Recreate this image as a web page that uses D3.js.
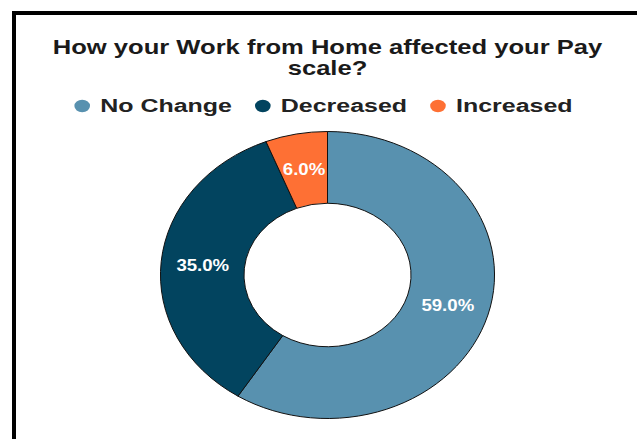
<!DOCTYPE html>
<html>
<head>
<meta charset="utf-8">
<script src="https://cdn.jsdelivr.net/npm/d3@7"></script>
<style>
  html, body { margin: 0; padding: 0; background: #ffffff; }
  svg { display: block; }
  text { font-family: "Liberation Sans", Arial, Helvetica, sans-serif; font-weight: bold; }
</style>
</head>
<body>
<svg id="chart" width="637" height="439"></svg>
<script>
// Survey answers and their shares (percent)
const categories = ["No Change", "Decreased", "Increased"];
const values = [59.0, 35.0, 6.0];
const colors = ["#5891af", "#02445f", "#fe7034"];
const titleLines = ["How your Work from Home affected your Pay", "scale?"];

const W = 637, H = 439;
const svg = d3.select("#chart");

// white card with a heavy black frame
svg.append("rect")
  .attr("x", 14).attr("y", 13)
  .attr("width", 640).attr("height", 440)
  .attr("fill", "#ffffff")
  .attr("stroke", "#000000")
  .attr("stroke-width", 4);

// title, two centred lines
const titleG = svg.append("g");
titleLines.forEach((line, i) => {
  titleG.append("g")
    .attr("transform", `translate(327.5,${53.5 + i * 21}) scale(1.306,1)`)
    .append("text")
    .attr("text-anchor", "middle")
    .attr("font-size", 19.6)
    .attr("fill", "#1a1a1a")
    .text(line);
});

// legend: dot + label per category, centred as a row
const legendScaleX = 1.35, legendFont = 18.5;
const dotRx = 7.8, dotRy = 6.2, dotGap = 10.2, itemGap = 23;
const legend = svg.append("g");
const items = categories.map((c, i) => {
  const g = legend.append("g");
  const t = g.append("text")
    .attr("font-size", legendFont)
    .attr("fill", "#222222")
    .text(c);
  const w = t.node().getComputedTextLength() * legendScaleX;
  return { g, t, w, i };
});
const total = d3.sum(items, d => 2 * dotRx + dotGap + d.w) + itemGap * (items.length - 1);
let xPos = 323.5 - total / 2;
items.forEach(d => {
  d.g.append("ellipse")
    .attr("cx", xPos + dotRx).attr("cy", 106)
    .attr("rx", dotRx).attr("ry", dotRy)
    .attr("fill", colors[d.i]);
  const tx = xPos + 2 * dotRx + dotGap;
  d.t.attr("transform", `translate(${tx},112.3) scale(${legendScaleX},1)`);
  xPos = tx + d.w + itemGap;
});

// donut
const outerR = 143.5, innerR = outerR * 0.5;
const pie = d3.pie().sort(null).value(d => d.value);
const arc = d3.arc().innerRadius(innerR).outerRadius(outerR);
const data = categories.map((c, i) => ({ name: c, value: values[i], color: colors[i] }));
const arcs = pie(data);

const donut = svg.append("g")
  .attr("transform", "translate(327.5,275) scale(1.164,1)");

donut.selectAll("path.slice")
  .data(arcs)
  .join("path")
  .attr("class", "slice")
  .attr("d", arc)
  .attr("fill", d => d.data.color)
  .attr("stroke", "#111111")
  .attr("stroke-width", 1)
  .attr("vector-effect", "non-scaling-stroke");

donut.selectAll("text.val")
  .data(arcs)
  .join("text")
  .attr("class", "val")
  .attr("transform", d => { const [x, y] = arc.centroid(d); return `translate(${x},${y})`; })
  .attr("text-anchor", "middle")
  .attr("dy", "0.36em")
  .attr("font-size", 16)
  .attr("fill", "#ffffff")
  .text(d => d.data.value.toFixed(1) + "%");
</script>
</body>
</html>
